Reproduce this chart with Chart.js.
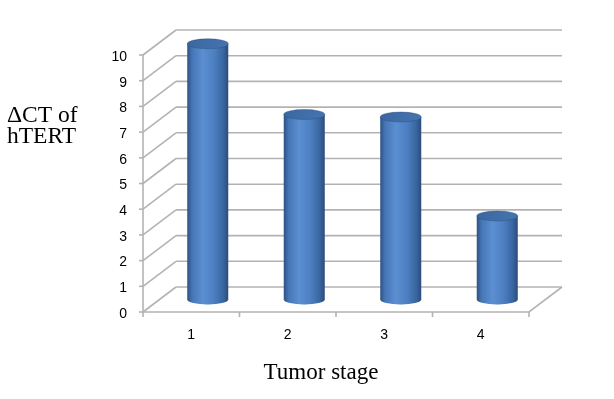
<!DOCTYPE html>
<html>
<head>
<meta charset="utf-8">
<script src="https://cdn.jsdelivr.net/npm/chart.js@4/dist/chart.umd.min.js"></script>
<style>
  html, body { margin: 0; padding: 0; background: #fff; }
  #wrap { width: 614px; height: 399px; }
</style>
</head>
<body>
<div id="wrap"><canvas id="stageChart" width="614" height="399"></canvas></div>
<script>
// Chart data
const categories = ['1', '2', '3', '4'];
const deltaCt = [9.95, 7.2, 7.1, 3.25];
const yTicks = [0, 1, 2, 3, 4, 5, 6, 7, 8, 9, 10];
const yAxisTitle = ['\u0394CT of', 'hTERT'];
const xAxisTitle = 'Tumor stage';

// 3D depth of the plot box (back wall offset)
const DEPTH_X = 33;
const DEPTH_Y = -25;
const LINE_GRAY = '#b3b3b3';

// Back wall, floor and front axes
const wallPlugin = {
    id: 'wall',
    beforeDatasetsDraw(chart) {
        const ctx = chart.ctx;
        const y = chart.scales.y;
        const left = chart.chartArea.left;
        const right = chart.chartArea.right;
        ctx.save();
        ctx.strokeStyle = LINE_GRAY;
        ctx.lineWidth = 1.6;
        yTicks.forEach(v => {
            const py = y.getPixelForValue(v);
            // back gridline
            ctx.beginPath();
            ctx.moveTo(left + DEPTH_X, py + DEPTH_Y);
            ctx.lineTo(right + DEPTH_X, py + DEPTH_Y);
            ctx.stroke();
            // side wall line
            ctx.beginPath();
            ctx.moveTo(left, py);
            ctx.lineTo(left + DEPTH_X, py + DEPTH_Y);
            ctx.stroke();
            // tick mark
            ctx.beginPath();
            ctx.moveTo(left - 4, py);
            ctx.lineTo(left, py);
            ctx.stroke();
        });
        const y0 = y.getPixelForValue(0);
        const y10 = y.getPixelForValue(10);
        // front vertical axis
        ctx.beginPath();
        ctx.moveTo(left, y10);
        ctx.lineTo(left, y0);
        ctx.stroke();
        // front floor edge
        ctx.beginPath();
        ctx.moveTo(left, y0);
        ctx.lineTo(right, y0);
        ctx.lineTo(right + DEPTH_X, y0 + DEPTH_Y);
        ctx.stroke();
        // category tick marks
        for (let i = 0; i <= categories.length; i++) {
            const px = left + (right - left) * i / categories.length;
            ctx.beginPath();
            ctx.moveTo(px, y0);
            ctx.lineTo(px, y0 + 5);
            ctx.stroke();
        }
        ctx.restore();
    }
};

// Draw each bar as a shaded cylinder at mid depth
const cylinderPlugin = {
    id: 'cylinders',
    afterDatasetsDraw(chart) {
        const ctx = chart.ctx;
        const meta = chart.getDatasetMeta(0);
        meta.data.forEach(bar => {
            const p = bar.getProps(['x', 'y', 'base', 'width'], true);
            const cx = p.x + DEPTH_X / 2;
            const top = p.y + DEPTH_Y / 2;
            const bottom = p.base + DEPTH_Y / 2;
            const rx = p.width / 2;
            const ry = 5;
            const l = cx - rx;
            const r = cx + rx;

            ctx.save();
            // faint reflection on the floor
            ctx.fillStyle = 'rgba(150, 190, 235, 0.45)';
            ctx.beginPath();
            ctx.ellipse(cx, bottom + 2, rx * 0.6, 3, 0, 0, Math.PI * 2);
            ctx.fill();

            const grad = ctx.createLinearGradient(l, 0, r, 0);
            grad.addColorStop(0, '#2c5285');
            grad.addColorStop(0.12, '#4676b6');
            grad.addColorStop(0.38, '#5b8fd2');
            grad.addColorStop(0.65, '#4d80c2');
            grad.addColorStop(0.88, '#3a659f');
            grad.addColorStop(1, '#2a4c7c');

            // body with rounded bottom
            ctx.fillStyle = grad;
            ctx.beginPath();
            ctx.moveTo(l, top);
            ctx.lineTo(l, bottom);
            ctx.ellipse(cx, bottom, rx, ry, 0, Math.PI, 0, true);
            ctx.lineTo(r, top);
            ctx.closePath();
            ctx.fill();

            // top cap
            const capGrad = ctx.createLinearGradient(l, top - ry, r, top + ry);
            capGrad.addColorStop(0, '#3a679f');
            capGrad.addColorStop(1, '#4674b0');
            ctx.fillStyle = capGrad;
            ctx.beginPath();
            ctx.ellipse(cx, top, rx, ry, 0, 0, Math.PI * 2);
            ctx.fill();
            ctx.strokeStyle = 'rgba(40, 75, 120, 0.5)';
            ctx.lineWidth = 0.8;
            ctx.stroke();
            ctx.restore();
        });
    }
};

// Axis titles
const titlePlugin = {
    id: 'titles',
    afterDraw(chart) {
        const ctx = chart.ctx;
        ctx.save();
        ctx.fillStyle = '#000';
        ctx.textBaseline = 'alphabetic';
        ctx.font = '23.5px "Liberation Serif", "Times New Roman", serif';
        ctx.textAlign = 'left';
        ctx.fillText(yAxisTitle[0], 7, 122);
        ctx.fillText(yAxisTitle[1], 7, 143);
        ctx.font = '23px "Liberation Serif", "Times New Roman", serif';
        ctx.textAlign = 'center';
        ctx.fillText(xAxisTitle, 321, 379);
        ctx.restore();
    }
};

new Chart(document.getElementById('stageChart'), {
    type: 'bar',
    data: {
        labels: categories,
        datasets: [{
            data: deltaCt,
            backgroundColor: 'rgba(0,0,0,0)',
            borderWidth: 0,
            barPercentage: 1,
            categoryPercentage: 0.425
        }]
    },
    options: {
        responsive: false,
        animation: false,
        layout: {
            padding: { top: 55, right: 85, left: 0, bottom: 0 }
        },
        plugins: {
            legend: { display: false },
            tooltip: { enabled: false }
        },
        scales: {
            x: {
                grid: { display: false, drawTicks: false },
                border: { display: false },
                ticks: {
                    color: '#000',
                    padding: 15,
                    font: { family: 'Liberation Sans, Arial', size: 14 }
                },
                afterFit(scale) { scale.height = 87; }
            },
            y: {
                min: 0,
                max: 10,
                grid: { display: false, drawTicks: false },
                border: { display: false },
                ticks: {
                    stepSize: 1,
                    color: '#000',
                    padding: 16,
                    labelOffset: 2,
                    font: { family: 'Liberation Sans, Arial', size: 14 }
                },
                afterFit(scale) { scale.width = 143; }
            }
        }
    },
    plugins: [wallPlugin, cylinderPlugin, titlePlugin]
});
</script>
</body>
</html>
